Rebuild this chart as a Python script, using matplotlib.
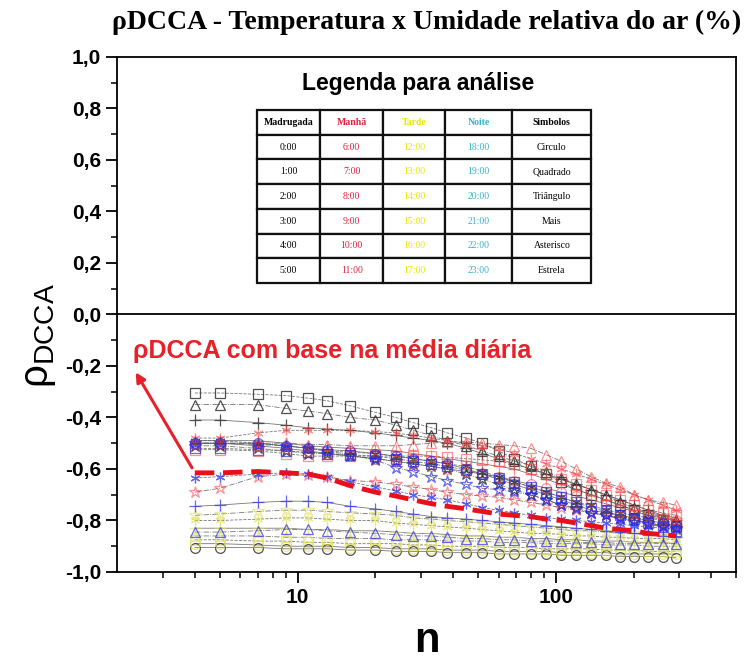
import numpy as np
import matplotlib
matplotlib.use('Agg')
import matplotlib.pyplot as plt
from matplotlib.ticker import FixedLocator, FuncFormatter, MultipleLocator, NullFormatter

# escalas n
n = [4, 5, 7, 9, 11, 13, 16, 20, 24, 28, 33, 38, 45, 52, 60, 69, 80, 92, 105, 120, 137, 156, 177, 201, 228, 259, 292]

# Madrugada (preto)
h00 = [-0.905, -0.905, -0.905, -0.91, -0.91, -0.91, -0.915, -0.915, -0.92, -0.92, -0.92, -0.925, -0.925, -0.925, -0.93, -0.93, -0.93, -0.93, -0.935, -0.935, -0.935, -0.935, -0.94, -0.94, -0.94, -0.94, -0.945]
h01 = [-0.305, -0.305, -0.31, -0.315, -0.325, -0.335, -0.355, -0.38, -0.40, -0.42, -0.44, -0.46, -0.48, -0.50, -0.53, -0.56, -0.59, -0.62, -0.65, -0.68, -0.70, -0.72, -0.74, -0.76, -0.78, -0.80, -0.82]
h02 = [-0.35, -0.35, -0.35, -0.365, -0.375, -0.385, -0.40, -0.41, -0.43, -0.45, -0.47, -0.49, -0.51, -0.53, -0.55, -0.57, -0.585, -0.61, -0.635, -0.66, -0.68, -0.70, -0.73, -0.75, -0.77, -0.79, -0.80]
h03 = [-0.41, -0.41, -0.42, -0.43, -0.44, -0.445, -0.45, -0.46, -0.47, -0.48, -0.49, -0.50, -0.52, -0.54, -0.56, -0.58, -0.60, -0.62, -0.64, -0.66, -0.68, -0.70, -0.72, -0.74, -0.76, -0.78, -0.80]
h04 = [-0.49, -0.49, -0.50, -0.51, -0.52, -0.53, -0.535, -0.54, -0.55, -0.56, -0.57, -0.58, -0.59, -0.61, -0.63, -0.65, -0.67, -0.69, -0.71, -0.73, -0.74, -0.76, -0.77, -0.78, -0.79, -0.80, -0.81]
h05 = [-0.51, -0.51, -0.52, -0.53, -0.54, -0.54, -0.55, -0.56, -0.57, -0.58, -0.59, -0.60, -0.62, -0.64, -0.66, -0.68, -0.70, -0.72, -0.74, -0.75, -0.77, -0.78, -0.79, -0.80, -0.81, -0.82, -0.83]
# Manha (vermelho)
h06 = [-0.50, -0.50, -0.51, -0.52, -0.53, -0.54, -0.55, -0.56, -0.57, -0.58, -0.59, -0.60, -0.61, -0.62, -0.63, -0.645, -0.66, -0.675, -0.69, -0.705, -0.72, -0.735, -0.75, -0.765, -0.78, -0.79, -0.80]
h07 = [-0.525, -0.525, -0.53, -0.54, -0.55, -0.55, -0.55, -0.55, -0.55, -0.55, -0.55, -0.555, -0.56, -0.565, -0.57, -0.58, -0.60, -0.62, -0.64, -0.66, -0.68, -0.70, -0.72, -0.74, -0.76, -0.77, -0.78]
h08 = [-0.50, -0.50, -0.50, -0.50, -0.505, -0.505, -0.51, -0.51, -0.51, -0.505, -0.50, -0.495, -0.495, -0.50, -0.505, -0.51, -0.52, -0.545, -0.57, -0.60, -0.63, -0.655, -0.67, -0.70, -0.72, -0.73, -0.74]
h09 = [-0.49, -0.49, -0.49, -0.50, -0.51, -0.515, -0.52, -0.525, -0.53, -0.54, -0.55, -0.56, -0.57, -0.58, -0.59, -0.60, -0.62, -0.64, -0.66, -0.68, -0.70, -0.72, -0.74, -0.76, -0.77, -0.78, -0.79]
h10 = [-0.48, -0.48, -0.46, -0.45, -0.45, -0.45, -0.45, -0.455, -0.46, -0.47, -0.48, -0.49, -0.50, -0.51, -0.52, -0.54, -0.56, -0.58, -0.60, -0.62, -0.64, -0.66, -0.68, -0.70, -0.72, -0.74, -0.76]
h11 = [-0.69, -0.675, -0.63, -0.62, -0.625, -0.63, -0.645, -0.65, -0.66, -0.67, -0.68, -0.69, -0.70, -0.705, -0.71, -0.72, -0.73, -0.74, -0.75, -0.76, -0.77, -0.78, -0.79, -0.80, -0.81, -0.815, -0.82]
# Tarde (amarelo)
h12 = [-0.89, -0.89, -0.895, -0.90, -0.90, -0.90, -0.905, -0.905, -0.91, -0.91, -0.91, -0.915, -0.915, -0.915, -0.92, -0.92, -0.92, -0.92, -0.925, -0.925, -0.925, -0.925, -0.93, -0.93, -0.93, -0.93, -0.93]
h13 = [-0.875, -0.875, -0.88, -0.88, -0.885, -0.885, -0.89, -0.89, -0.89, -0.895, -0.895, -0.90, -0.90, -0.90, -0.905, -0.905, -0.905, -0.91, -0.91, -0.91, -0.91, -0.915, -0.915, -0.915, -0.92, -0.92, -0.92]
h14 = [-0.86, -0.86, -0.86, -0.865, -0.865, -0.87, -0.87, -0.87, -0.875, -0.875, -0.875, -0.88, -0.88, -0.88, -0.885, -0.885, -0.885, -0.89, -0.89, -0.89, -0.89, -0.895, -0.895, -0.895, -0.90, -0.90, -0.90]
h15 = [-0.83, -0.83, -0.83, -0.83, -0.835, -0.835, -0.84, -0.84, -0.845, -0.85, -0.85, -0.855, -0.86, -0.86, -0.865, -0.865, -0.87, -0.87, -0.875, -0.875, -0.88, -0.88, -0.88, -0.885, -0.885, -0.885, -0.89]
h16 = [-0.80, -0.80, -0.795, -0.79, -0.79, -0.795, -0.80, -0.80, -0.81, -0.815, -0.82, -0.825, -0.83, -0.835, -0.84, -0.845, -0.85, -0.85, -0.855, -0.86, -0.86, -0.865, -0.865, -0.87, -0.87, -0.87, -0.875]
h17 = [-0.78, -0.775, -0.765, -0.76, -0.76, -0.765, -0.77, -0.775, -0.78, -0.79, -0.795, -0.80, -0.805, -0.81, -0.815, -0.82, -0.825, -0.83, -0.835, -0.84, -0.84, -0.845, -0.85, -0.85, -0.855, -0.855, -0.86]
# Noite (azul)
h18 = [-0.50, -0.50, -0.50, -0.51, -0.52, -0.525, -0.53, -0.54, -0.55, -0.56, -0.57, -0.58, -0.60, -0.62, -0.64, -0.66, -0.68, -0.70, -0.72, -0.74, -0.76, -0.77, -0.78, -0.79, -0.80, -0.81, -0.82]
h19 = [-0.52, -0.52, -0.525, -0.53, -0.535, -0.54, -0.545, -0.55, -0.56, -0.57, -0.58, -0.59, -0.605, -0.62, -0.635, -0.65, -0.67, -0.69, -0.71, -0.73, -0.75, -0.765, -0.78, -0.795, -0.81, -0.825, -0.84]
h20 = [-0.845, -0.845, -0.84, -0.835, -0.835, -0.84, -0.845, -0.85, -0.855, -0.86, -0.86, -0.865, -0.87, -0.87, -0.875, -0.875, -0.88, -0.88, -0.88, -0.885, -0.885, -0.885, -0.89, -0.89, -0.89, -0.89, -0.89]
h21 = [-0.745, -0.74, -0.73, -0.725, -0.725, -0.73, -0.745, -0.755, -0.765, -0.775, -0.785, -0.79, -0.795, -0.80, -0.805, -0.81, -0.815, -0.82, -0.825, -0.83, -0.835, -0.84, -0.845, -0.85, -0.855, -0.86, -0.865]
h22 = [-0.635, -0.63, -0.62, -0.615, -0.62, -0.63, -0.65, -0.67, -0.685, -0.70, -0.71, -0.72, -0.735, -0.75, -0.76, -0.77, -0.78, -0.79, -0.795, -0.80, -0.805, -0.81, -0.815, -0.82, -0.825, -0.83, -0.835]
h23 = [-0.50, -0.50, -0.505, -0.51, -0.52, -0.53, -0.545, -0.565, -0.595, -0.61, -0.63, -0.645, -0.66, -0.675, -0.68, -0.69, -0.70, -0.72, -0.74, -0.755, -0.77, -0.78, -0.795, -0.805, -0.815, -0.825, -0.835]

# media diaria
media = [-0.615, -0.615, -0.61, -0.615, -0.62, -0.635, -0.665, -0.69, -0.705, -0.72, -0.735, -0.745, -0.755, -0.765, -0.775, -0.78, -0.785, -0.795, -0.80, -0.81, -0.82, -0.83, -0.835, -0.84, -0.85, -0.855, -0.86]

horas = [h00, h01, h02, h03, h04, h05, h06, h07, h08, h09, h10, h11,
         h12, h13, h14, h15, h16, h17, h18, h19, h20, h21, h22, h23]

cores = ['#333333', '#ff4a4a', '#dede50', '#2a2aee']
alfas = [0.85, 0.6, 0.6, 0.7]
marcadores = ['o', 's', '^', '+', (6, 2, 0), '*']
estilos = ['-', '--', '-.', '-', '--', '-.']

tabela = [['Madrugada', 'Manhã', 'Tarde', 'Noite', 'Simbolos'],
          ['0:00', '6:00', '12:00', '18:00', 'Circulo'],
          ['1:00', '7:00', '13:00', '19:00', 'Quadrado'],
          ['2:00', '8:00', '14:00', '20:00', 'Triângulo'],
          ['3:00', '9:00', '15:00', '21:00', 'Mais'],
          ['4:00', '10:00', '16:00', '22:00', 'Asterisco'],
          ['5:00', '11:00', '17:00', '23:00', 'Estrela']]
cores_tabela = ['black', '#e2203c', '#e8e800', '#38b4c8', 'black']

fig = plt.figure(figsize=(7.46, 6.69), dpi=100)
ax = fig.add_axes([0.157, 0.145, 0.83, 0.77])

for i, y in enumerate(horas):
    c = cores[i // 6]
    a = alfas[i // 6]
    m = marcadores[i % 6]
    ax.plot(n, y, color='#555555', lw=0.6, ls=estilos[i % 6], alpha=0.8, zorder=2)
    if m == '+':
        ax.plot(n, y, ls='none', marker=m, ms=8, mew=0.9, color=c, alpha=a, zorder=3)
    else:
        ax.plot(n, y, ls='none', marker=m, ms=7 if m != '*' else 9, mew=0.9,
                mfc='none', mec=c, alpha=a, zorder=3)

ax.plot(n, media, color='#e8101a', lw=3.5, dashes=(4, 1.8), zorder=5)

ax.axhline(0, color='black', lw=1.3, zorder=1)

ax.set_xscale('log')
ax.set_xlim(2, 500)
ax.set_ylim(-1.0, 1.0)
ax.xaxis.set_major_locator(FixedLocator([10, 100]))
ax.xaxis.set_minor_locator(FixedLocator([3, 4, 5, 6, 7, 8, 9, 20, 30, 40, 50, 60, 70, 80, 90, 200, 300, 400, 500]))
ax.xaxis.set_minor_formatter(NullFormatter())
ax.xaxis.set_major_formatter(FuncFormatter(lambda v, p: '%d' % v))
ax.yaxis.set_major_locator(MultipleLocator(0.2))
ax.yaxis.set_minor_locator(MultipleLocator(0.1))
ax.yaxis.set_major_formatter(FuncFormatter(lambda v, p: ('%.1f' % v).replace('.', ',').replace('-0,0', '0,0')))
ax.tick_params(which='major', direction='out', length=8, width=1.3, labelsize=15, top=False, right=False)
ax.tick_params(which='minor', direction='out', length=4, width=1.1, top=False, right=False)
for lab in ax.get_xticklabels() + ax.get_yticklabels():
    lab.set_fontweight('bold')
    lab.set_family('Liberation Sans')
for s in ax.spines.values():
    s.set_linewidth(1.3)

ax.set_xlabel('n', fontsize=30, fontweight='bold', family='Liberation Sans')
ax.xaxis.set_label_coords(0.5, -0.095)
ax.set_ylabel(r'$\mathregular{\rho_{DCCA}}$', fontsize=29, family='Liberation Sans')
ax.yaxis.set_label_coords(-0.095, 0.46)

fig.text(0.5717, 1 - 22 / 669, 'ρDCCA - Temperatura x Umidade relativa do ar (%)',
         ha='center', va='center', fontsize=20, fontweight='bold', family='Liberation Serif')

ax.text(0.486, 0.948, 'Legenda para análise', transform=ax.transAxes, ha='center', va='center',
        fontsize=16.5, fontweight='bold', family='Liberation Sans')

tb = ax.table(cellText=tabela, cellLoc='center', bbox=[0.226, 0.561, 0.540, 0.336],
              colWidths=[63, 63, 62, 67, 79])
tb.auto_set_font_size(False)
for (r, c), cell in tb.get_celld().items():
    cell.set_linewidth(1.6)
    cell.set_edgecolor('#111111')
    t = cell.get_text()
    t.set_fontsize(7)
    t.set_family('Liberation Serif')
    t.set_color(cores_tabela[c])
    if r == 0:
        t.set_fontweight('bold')

ax.text(0.025, 0.429, 'ρDCCA com base na média diária', transform=ax.transAxes,
        ha='left', va='center', fontsize=18, fontweight='bold', color='#e8202a',
        family='Liberation Sans', zorder=6)
ax.annotate('', xy=(2.33, -0.215), xytext=(3.95, -0.605),
            arrowprops=dict(arrowstyle='-|>', color='#e8202a', lw=2.2, mutation_scale=14),
            zorder=6)

plt.savefig('out.png', dpi=100)
